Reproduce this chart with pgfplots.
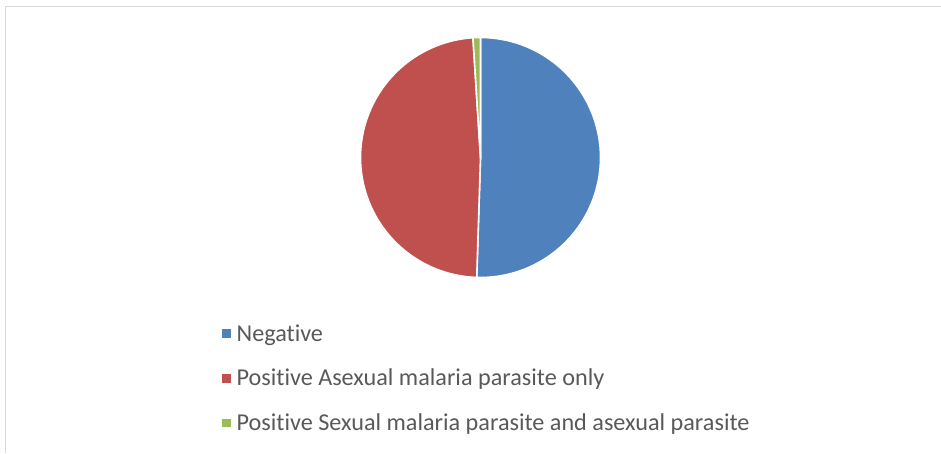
\documentclass[border=0pt]{standalone}
\usepackage{pgfplots}
\usepackage{pgfplotstable}
\usepackage{fontspec}
\setmainfont{Carlito}[Ligatures={NoCommon,NoContextual}]
\pgfplotsset{compat=1.18}

\definecolor{sliceblue}{HTML}{4F81BD}
\definecolor{slicered}{HTML}{C0504D}
\definecolor{slicegreen}{HTML}{9BBB59}
\definecolor{legendtext}{HTML}{595959}
\definecolor{framegray}{HTML}{D9D9D9}

% Share of each outcome (percent of samples examined)
\pgfplotstableread[col sep=comma]{
label,value
Negative,50.5
Asexual,48.5
Sexual,1.0
}\pietable

\begin{document}
\begin{tikzpicture}[x=1pt,y=1pt]
  \path[use as bounding box] (0,0) rectangle (941,453);
  % chart area border (top and left edges)
  \draw[framegray, line width=1.2pt] (5.5,0) -- (5.5,446.5) -- (941,446.5);

  % slice angles, clockwise from 12 o'clock
  \pgfplotstablegetelem{0}{value}\of\pietable \let\va\pgfplotsretval
  \pgfplotstablegetelem{1}{value}\of\pietable \let\vb\pgfplotsretval
  \pgfplotstablegetelem{2}{value}\of\pietable \let\vc\pgfplotsretval
  \pgfmathsetmacro{\aA}{90}
  \pgfmathsetmacro{\aB}{90-3.6*\va}
  \pgfmathsetmacro{\aC}{\aB-3.6*\vb}
  \pgfmathsetmacro{\aD}{\aC-3.6*\vc}

  \begin{axis}[
    at={(480.5pt,295.5pt)}, anchor=center,
    width=240pt, height=240pt, scale only axis,
    xmin=-1, xmax=1, ymin=-1, ymax=1,
    hide axis, clip=false,
    legend cell align=left,
    legend image code/.code={\fill[#1, draw=none] (0pt,-4.2pt) rectangle (8.4pt,4.2pt);},
    legend style={
      at={(axis description cs:-0.577,-0.195)}, anchor=north west,
      draw=none, fill=none,
      font=\fontsize{24.2}{24.2}\selectfont, text=legendtext,
      row sep=26.5pt, inner sep=0pt,
      nodes={inner xsep=6pt, inner ysep=0pt},
    },
  ]
    \addplot[fill=sliceblue, draw=white, line width=1.6pt, domain=\aB:\aA, samples=120]
      ({cos(x)},{sin(x)}) -- (axis cs:0,0) -- cycle;
    \addlegendentry{Negative}
    \addplot[fill=slicered, draw=white, line width=1.6pt, domain=\aC:\aB, samples=120]
      ({cos(x)},{sin(x)}) -- (axis cs:0,0) -- cycle;
    \addlegendentry{Positive Asexual malaria parasite only}
    \addplot[fill=slicegreen, draw=white, line width=1.6pt, domain=\aD:\aC, samples=10]
      ({cos(x)},{sin(x)}) -- (axis cs:0,0) -- cycle;
    \addlegendentry{Positive Sexual malaria parasite and asexual parasite}
  \end{axis}
\end{tikzpicture}
\end{document}
